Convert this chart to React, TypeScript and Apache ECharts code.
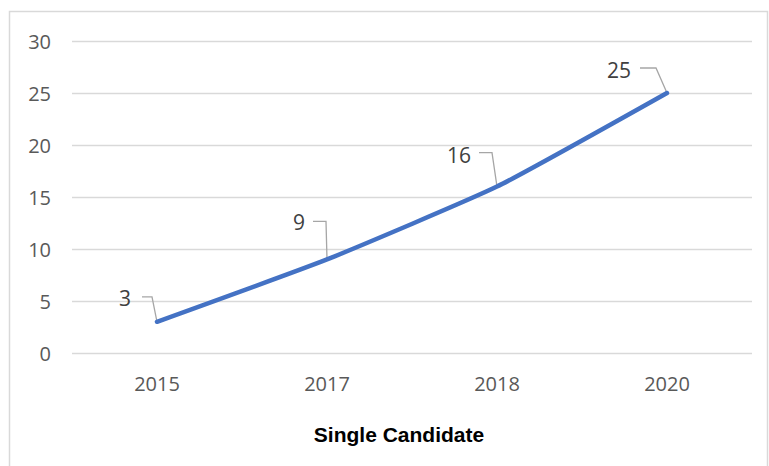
import React, { useEffect, useRef } from "react";
import * as echarts from "echarts";

const categories = ["2015", "2017", "2018", "2020"];
const values = [3, 9, 16, 25];
const yTicks = { min: 0, max: 30, interval: 5 };
const title = "Single Candidate";

// label placement relative to each point (pixels)
const labelOffsets = [
  [-32, -24],
  [-28, -37],
  [-38, -32],
  [-48, -23],
];
// leader line start/elbow relative to each point (pixels)
const leaderPts = [
  [[-15, -25], [-5, -25]],
  [[-14, -38], [-1, -38]],
  [[-18, -34], [-5, -34]],
  [[-27, -25], [-11, -25]],
];

export default function App() {
  const ref = useRef<HTMLDivElement>(null);
  useEffect(() => {
    const chart = echarts.init(ref.current!, undefined, { renderer: "svg" });
    const font = "'Open Sans', sans-serif";
    chart.setOption({
      animation: false,
      backgroundColor: "#ffffff",
      graphic: [
        {
          type: "rect",
          shape: { x: 9.5, y: 11.5, width: 758, height: 480 },
          style: { fill: "none", stroke: "#D9D9D9", lineWidth: 1.5 },
          silent: true,
          z: -1,
        },
        {
          type: "text",
          x: 399,
          y: 434,
          style: {
            text: title,
            font: "bold 21px 'Liberation Sans', Arial, sans-serif",
            fill: "#000000",
            align: "center",
            verticalAlign: "middle",
          },
        },
      ],
      grid: { left: 72, right: 17, top: 41, bottom: 113 },
      xAxis: {
        type: "category",
        data: categories,
        boundaryGap: true,
        axisLine: { show: false },
        axisTick: { show: false },
        axisLabel: {
          color: "#595959",
          fontSize: 20,
          fontFamily: font,
          margin: 20,
        },
      },
      yAxis: {
        type: "value",
        min: yTicks.min,
        max: yTicks.max,
        interval: yTicks.interval,
        axisLine: { show: false },
        axisTick: { show: false },
        splitLine: { lineStyle: { color: "#D9D9D9", width: 1.3 } },
        axisLabel: {
          color: "#595959",
          fontSize: 20,
          fontFamily: font,
          margin: 21,
        },
      },
      series: [
        {
          type: "line",
          data: values,
          smooth: 0.15,
          symbol: "none",
          lineStyle: { color: "#4472C4", width: 4.5, cap: "round" },
          z: 2,
        },
        {
          type: "custom",
          renderItem: (params: any, api: any) => {
            const i = params.dataIndex;
            const p = api.coord([api.value(0), api.value(1)]);
            const lp = leaderPts[i];
            const lo = labelOffsets[i];
            return {
              type: "group",
              children: [
                {
                  type: "polyline",
                  shape: {
                    points: [
                      [p[0] + lp[0][0], p[1] + lp[0][1]],
                      [p[0] + lp[1][0], p[1] + lp[1][1]],
                      [p[0], p[1]],
                    ],
                  },
                  style: { stroke: "#A6A6A6", lineWidth: 1.3, fill: "none" },
                  z2: 1,
                },
                {
                  type: "text",
                  x: p[0] + lo[0],
                  y: p[1] + lo[1],
                  style: {
                    text: String(api.value(1)),
                    font: "21px 'Open Sans', sans-serif",
                    fill: "#404040",
                    align: "center",
                    verticalAlign: "middle",
                  },
                },
              ],
            };
          },
          data: values.map((v, i) => [i, v]),
          z: 1,
        },
      ],
    });
    return () => chart.dispose();
  }, []);
  return (
    <div
      ref={ref}
      style={{ position: "absolute", left: 0, top: 0, width: 769, height: 466 }}
    />
  );
}
